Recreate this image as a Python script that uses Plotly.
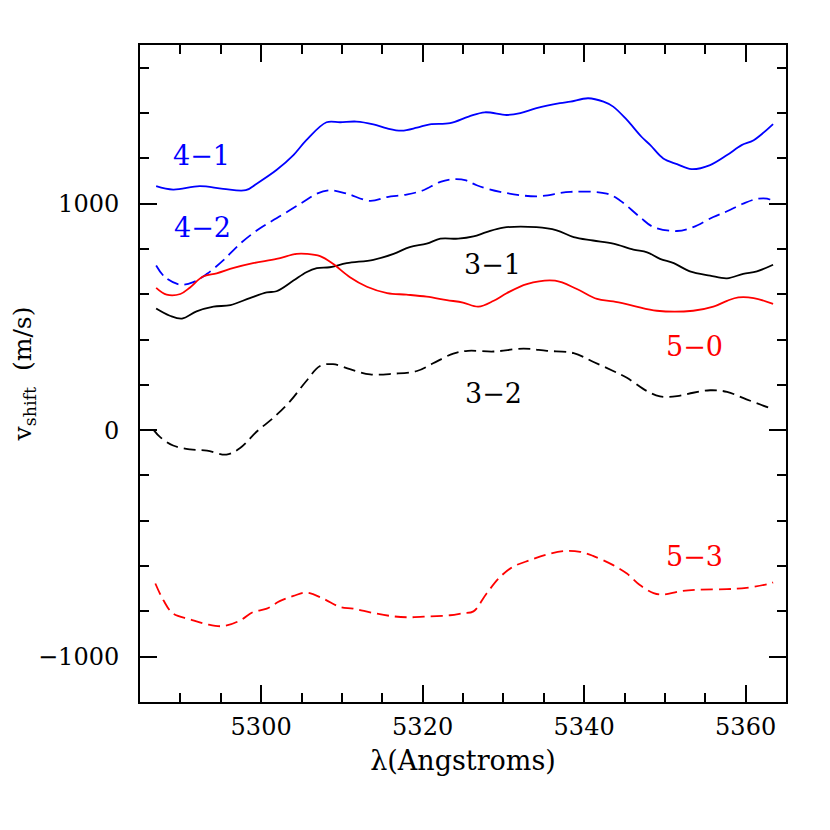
import plotly.graph_objects as go

# wavelength (Angstroms) and velocity shift (m/s)
lam_41 = [5287.0, 5289.1, 5292.4, 5295.3, 5298.1, 5299.5, 5301.9, 5304.0, 5305.6, 5308.1,
          5309.8, 5311.8, 5313.9, 5315.6, 5317.4, 5319.3, 5320.9, 5323.4, 5325.7, 5327.7,
          5330.4, 5332.1, 5334.1, 5337.0, 5338.3, 5340.5, 5342.4, 5343.6, 5345.3, 5347.1,
          5348.2, 5349.8, 5351.5, 5353.3, 5355.6, 5357.7, 5359.5, 5361.0, 5363.4]
v_41 = [1077, 1062, 1077, 1065, 1059, 1089, 1148, 1214, 1280, 1359,
        1359, 1362, 1350, 1332, 1322, 1335, 1350, 1355, 1384, 1403,
        1391, 1399, 1421, 1443, 1450, 1465, 1450, 1428, 1369, 1295,
        1258, 1199, 1174, 1152, 1170, 1214, 1258, 1280, 1351]

lam_42 = [5287.0, 5288.1, 5290.0, 5291.6, 5293.3, 5295.3, 5297.4, 5299.5, 5301.1, 5303.2,
          5305.2, 5306.9, 5308.5, 5310.6, 5313.5, 5315.6, 5318.0, 5320.1, 5322.2, 5324.0,
          5325.4, 5326.7, 5329.6, 5334.1, 5338.3, 5342.8, 5344.4, 5346.9, 5348.6, 5351.5,
          5353.5, 5356.0, 5357.7, 5359.7, 5361.6, 5363.0, 5363.4]
v_42 = [727, 675, 642, 653, 690, 749, 823, 882, 918, 963,
        1007, 1044, 1059, 1044, 1012, 1029, 1040, 1059, 1096, 1108,
        1102, 1081, 1052, 1032, 1052, 1044, 1015, 941, 896, 879,
        896, 941, 966, 1000, 1022, 1018, 1000]

lam_31 = [5287.0, 5288.7, 5290.2, 5292.0, 5294.1, 5296.2, 5298.6, 5300.7, 5301.9, 5304.0,
          5305.6, 5306.9, 5308.5, 5310.6, 5313.9, 5316.4, 5318.4, 5320.5, 5322.2, 5324.4,
          5326.3, 5327.9, 5330.0, 5334.1, 5336.6, 5338.7, 5341.1, 5343.6, 5346.1, 5347.8,
          5349.4, 5351.1, 5353.1, 5355.6, 5357.7, 5359.7, 5361.4, 5363.4]
v_31 = [537, 505, 492, 524, 545, 552, 583, 608, 613, 660,
        697, 715, 719, 737, 752, 778, 808, 823, 845, 845,
        855, 874, 894, 896, 882, 852, 837, 823, 797, 785,
        756, 737, 701, 682, 670, 690, 701, 730]

lam_32 = [5286.7, 5287.5, 5289.1, 5291.2, 5293.3, 5295.7, 5297.4, 5299.5, 5301.5, 5303.6,
          5305.6, 5307.3, 5308.9, 5311.0, 5313.5, 5316.4, 5319.3, 5321.3, 5323.8, 5325.6,
          5328.8, 5332.5, 5335.4, 5338.7, 5341.1, 5343.6, 5345.3, 5347.8, 5349.4, 5351.5,
          5353.5, 5355.6, 5357.7, 5360.1, 5363.0, 5363.4]
v_32 = [0, -31, -68, -85, -90, -108, -79, -5, 54, 128,
        217, 283, 291, 269, 246, 249, 261, 295, 338, 350,
        347, 360, 350, 340, 302, 261, 231, 172, 149, 150,
        165, 176, 169, 136, 98, 95]

lam_50 = [5287.0, 5288.3, 5290.0, 5291.2, 5292.8, 5294.5, 5296.6, 5299.0, 5301.9, 5304.4,
          5305.6, 5307.3, 5308.9, 5311.0, 5313.1, 5315.6, 5318.0, 5320.5, 5323.0, 5325.0,
          5326.9, 5328.8, 5330.4, 5332.9, 5336.4, 5339.1, 5341.6, 5343.6, 5346.1, 5349.0,
          5353.5, 5356.0, 5357.7, 5359.1, 5361.0, 5363.4]
v_50 = [628, 598, 601, 630, 678, 692, 716, 737, 756, 778,
        778, 768, 734, 675, 633, 605, 598, 589, 574, 563,
        545, 571, 604, 645, 660, 623, 579, 568, 549, 527,
        527, 545, 571, 586, 583, 557]

lam_53 = [5286.9, 5287.9, 5289.1, 5291.2, 5293.3, 5295.3, 5297.4, 5299.0, 5300.7, 5302.3,
          5304.0, 5305.6, 5307.7, 5309.8, 5311.4, 5313.9, 5316.4, 5318.4, 5320.9, 5323.4,
          5325.0, 5326.3, 5327.9, 5329.6, 5331.2, 5333.3, 5335.4, 5337.4, 5339.5, 5341.1,
          5343.6, 5345.3, 5346.9, 5348.6, 5349.8, 5351.9, 5354.3, 5357.7, 5360.1, 5363.0,
          5363.4]
v_53 = [-677, -751, -810, -835, -857, -865, -840, -803, -788, -755,
        -732, -717, -744, -781, -788, -807, -822, -826, -822, -817,
        -808, -800, -722, -648, -603, -574, -549, -534, -537, -555,
        -596, -633, -684, -719, -726, -711, -704, -702, -696, -677,
        -672]

# curve labels: text, wavelength, velocity, colour
labels = [("4\u22121", 5292.6, 1214, "blue"),
          ("4\u22122", 5292.7, 893, "blue"),
          ("3\u22121", 5328.6, 731, "black"),
          ("5\u22120", 5353.7, 367, "red"),
          ("3\u22122", 5328.8, 161, "black"),
          ("5\u22123", 5353.7, -557, "red")]

fig = go.Figure()

fig.add_trace(go.Scatter(x=lam_41, y=v_41, mode="lines", line=dict(color="blue", width=1.8, shape="spline")))
fig.add_trace(go.Scatter(x=lam_42, y=v_42, mode="lines", line=dict(color="blue", width=1.8, dash="12px,6px", shape="spline")))
fig.add_trace(go.Scatter(x=lam_31, y=v_31, mode="lines", line=dict(color="black", width=1.8, shape="spline")))
fig.add_trace(go.Scatter(x=lam_32, y=v_32, mode="lines", line=dict(color="black", width=1.8, dash="12px,6px", shape="spline")))
fig.add_trace(go.Scatter(x=lam_50, y=v_50, mode="lines", line=dict(color="red", width=1.8, shape="spline")))
fig.add_trace(go.Scatter(x=lam_53, y=v_53, mode="lines", line=dict(color="red", width=1.8, dash="12px,6px", shape="spline")))

for txt, x, y, col in labels:
    fig.add_annotation(x=x, y=y, text=txt, showarrow=False,
                       font=dict(family="DejaVu Serif", size=27, color=col))

axis_style = dict(showgrid=False, zeroline=False, showline=True, linecolor="black", linewidth=2,
                  mirror="ticks", ticks="inside", ticklen=17, tickwidth=1.5, tickcolor="black",
                  tickfont=dict(family="DejaVu Serif", size=24, color="black"), automargin=False)

fig.update_xaxes(range=[5285, 5365], dtick=20, tick0=5300,
                 minor=dict(ticks="inside", dtick=5, ticklen=9, tickwidth=1.5, tickcolor="black"),
                 title=dict(text="\u03bb(Angstroms)", font=dict(family="DejaVu Serif", size=27, color="black"),
                            standoff=11),
                 ticklabelstandoff=2, **axis_style)
fig.update_yaxes(range=[-1200, 1700], dtick=1000, tick0=0,
                 minor=dict(ticks="inside", dtick=200, ticklen=9, tickwidth=1.5, tickcolor="black"),
                 title=dict(text="v<sub>shift</sub>  (m/s)", font=dict(family="DejaVu Serif", size=25, color="black"),
                            standoff=14),
                 ticklabelstandoff=14, **axis_style)

# the page adds an 8px body margin, so the figure is a bit smaller than the window
fig.update_layout(width=822, height=822, showlegend=False,
                  plot_bgcolor="white", paper_bgcolor="white",
                  margin=dict(l=132, r=44, t=37, b=128))

fig.write_html("out.html")
